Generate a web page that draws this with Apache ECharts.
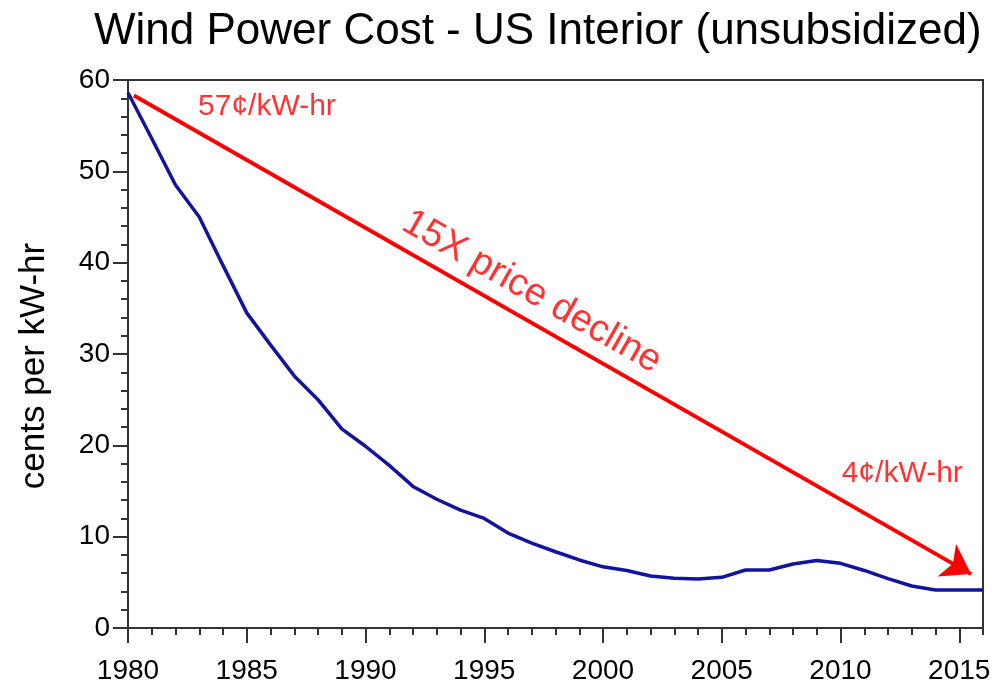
<!DOCTYPE html>
<html>
<head>
<meta charset="utf-8">
<script src="https://cdn.jsdelivr.net/npm/echarts@6/dist/echarts.min.js"></script>
<style>
  html, body { margin: 0; padding: 0; background: #fff; }
  #main { width: 1007px; height: 687px; }
</style>
</head>
<body>
<div id="main"></div>
<script>
// unsubsidized wind cost, cents per kW-hr
var years = [1980, 1981, 1982, 1983, 1984, 1985, 1986, 1987, 1988, 1989, 1990, 1991,
    1992, 1993, 1994, 1995, 1996, 1997, 1998, 1999, 2000, 2001, 2002, 2003, 2004,
    2005, 2006, 2007, 2008, 2009, 2010, 2011, 2012, 2013, 2014, 2015, 2016];
var cost = [58.6, 53.6, 48.5, 45.0, 39.7, 34.5, 31.0, 27.6, 25.0, 21.8, 19.9, 17.8,
    15.5, 14.1, 12.9, 12.0, 10.4, 9.3, 8.35, 7.45, 6.7, 6.3, 5.7, 5.45, 5.37,
    5.55, 6.35, 6.35, 7.0, 7.4, 7.08, 6.3, 5.4, 4.6, 4.15, 4.15, 4.15];

// trend arrow endpoints
var arrowYears = [1980.25, 2015.5];
var arrowCost = [58.3, 5.9];

var notes = [
    { year: 1985.85, value: 57.1, text: '57¢/kW-hr', size: 30, rotate: 0 },
    { year: 2012.6, value: 16.9, text: '4¢/kW-hr', size: 30, rotate: 0 },
    { year: 1997.0, value: 36.8, text: '15X price decline', size: 38, rotate: -29.7 }
];

var chartDom = document.getElementById('main');
var myChart = echarts.init(chartDom);

var font = 'Liberation Sans, Arial, sans-serif';
var axisColor = '#333';

var option = {
    animation: false,
    title: {
        text: 'Wind Power Cost - US Interior (unsubsidized)',
        left: 89,
        top: 5,
        textStyle: { fontFamily: font, fontSize: 44, fontWeight: 'normal', color: '#000' }
    },
    grid: {
        left: 128, right: 24, top: 80, bottom: 59,
        show: true, borderColor: axisColor, borderWidth: 2
    },
    xAxis: [
        {
            type: 'value', min: 1980, max: 2016, interval: 5,
            axisLine: { lineStyle: { color: axisColor, width: 2 } },
            axisTick: { length: 15, lineStyle: { color: axisColor, width: 2 } },
            axisLabel: {
                margin: 29, fontFamily: font, fontSize: 28, color: '#000',
                showMaxLabel: false,
                formatter: function (v) { return String(v); }
            },
            splitLine: { show: false }
        },
        {
            type: 'value', min: 1980, max: 2016, interval: 1, position: 'bottom',
            axisLine: { show: false },
            axisTick: { length: 7, lineStyle: { color: axisColor, width: 2 } },
            axisLabel: { show: false },
            splitLine: { show: false }
        }
    ],
    yAxis: [
        {
            type: 'value', min: 0, max: 60, interval: 10,
            name: 'cents per kW-hr', nameLocation: 'middle', nameGap: 76,
            nameTextStyle: { fontFamily: font, fontSize: 35, color: '#000', padding: [0, 24, 0, 0] },
            axisLine: { show: true, lineStyle: { color: axisColor, width: 2 } },
            axisTick: { show: true, length: 15, lineStyle: { color: axisColor, width: 2 } },
            axisLabel: { margin: 18, fontFamily: font, fontSize: 28, color: '#000' },
            splitLine: { show: false }
        },
        {
            type: 'value', min: 0, max: 60, interval: 2, position: 'left',
            axisLine: { show: false },
            axisTick: { show: true, length: 7, lineStyle: { color: axisColor, width: 2 } },
            axisLabel: { show: false },
            splitLine: { show: false }
        }
    ],
    series: [
        {
            name: 'cost',
            type: 'line',
            data: years.map(function (y, i) { return [y, cost[i]]; }),
            showSymbol: false,
            lineStyle: { color: '#13139e', width: 3.5 },
            z: 3
        },
        {
            name: 'trend',
            type: 'lines',
            coordinateSystem: 'cartesian2d',
            polyline: false,
            symbol: ['none', 'arrow'],
            symbolSize: 28,
            lineStyle: { color: '#ff0000', width: 4, opacity: 1 },
            data: [{ coords: [[arrowYears[0], arrowCost[0]], [arrowYears[1], arrowCost[1]]] }],
            z: 4
        },
        {
            name: 'notes',
            type: 'scatter',
            symbolSize: 0,
            data: notes.map(function (n) {
                return {
                    value: [n.year, n.value],
                    label: {
                        show: true, position: 'inside', formatter: n.text,
                        rotate: n.rotate, fontFamily: font, fontSize: n.size, color: '#ff0000'
                    }
                };
            }),
            z: 5
        }
    ]
};

myChart.setOption(option);
</script>
</body>
</html>
